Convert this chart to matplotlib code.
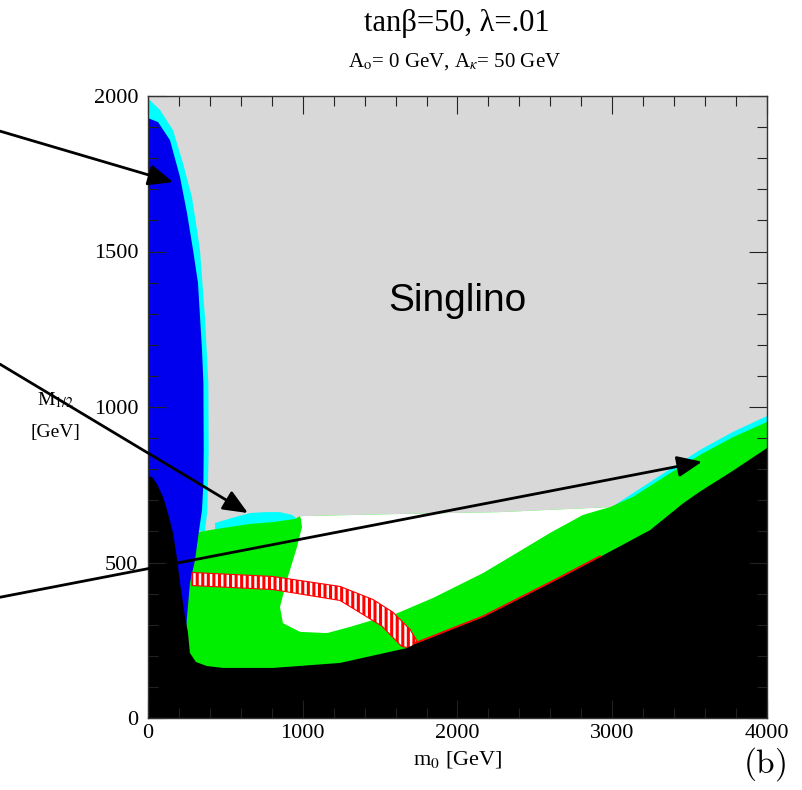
import matplotlib.pyplot as plt
from matplotlib.ticker import MultipleLocator

plt.rcParams['mathtext.fontset'] = 'stix'
plt.rcParams['hatch.linewidth'] = 2.2
serif = 'Liberation Serif'

# === Region boundaries (m0 [GeV], M1/2 [GeV]) ===
# excluded region (black), top edge left to right
black_x = [0, 26, 58, 97, 129, 162, 187, 207, 239, 258, 271, 310, 381, 485, 808,
           1241, 1674, 1738, 2165, 2598, 2921, 3244, 3457, 3567, 3780, 4000]
black_y = [778, 775, 752, 711, 659, 595, 514, 434, 325, 276, 209, 180, 167, 161, 161,
           177, 225, 241, 325, 434, 518, 604, 690, 728, 795, 868]

# bino-like region (blue), right edge top to bottom
blue_x = [0, 65, 142, 207, 252, 291, 323, 349, 358, 360, 358, 349, 330, 304, 271, 252, 246]
blue_y = [1929, 1916, 1858, 1739, 1624, 1505, 1399, 1183, 1077, 862, 756, 669, 604, 508, 434, 325, 283]

# cyan edge around the blue region
cyan_l_x = [0, 78, 162, 226, 284, 317, 336, 368, 390, 392, 384, 368]
cyan_l_y = [1993, 1955, 1890, 1784, 1675, 1569, 1505, 1289, 1077, 862, 669, 601]

# cyan bump above green block
cyan_b_x = [433, 562, 659, 756, 853, 931, 969]
cyan_b_y = [627, 646, 659, 662, 662, 653, 637]

# cyan strip along green on the right
cyan_r_x = [3018, 3134, 3354, 3567, 3780, 4000]
cyan_r_y = [685, 723, 794, 862, 920, 971]

# green region, top edge left to right
green_x = [239, 323, 485, 659, 808, 950, 982, 1628, 2275, 2985, 3134, 3354, 3567, 3780, 4000]
green_y = [598, 598, 611, 624, 630, 640, 649, 656, 662, 678, 711, 781, 846, 903, 952]

# white (unshaded) region
white_x = [982, 1628, 2275, 2985, 2921, 2811, 2598, 2384, 2165, 1842, 1583, 1454, 1306,
           1157, 982, 872, 853, 898, 963, 995, 988]
white_y = [649, 656, 662, 678, 669, 653, 595, 531, 466, 386, 331, 315, 293,
           273, 277, 305, 357, 444, 550, 614, 640]

# red hatched band
hatch_top_x = [284, 808, 1241, 1454, 1583, 1693, 1738]
hatch_top_y = [468, 455, 423, 381, 340, 285, 248]
hatch_bot_x = [1700, 1640, 1510, 1241, 808, 284]
hatch_bot_y = [225, 230, 296, 378, 413, 426]

# thin red line along the black edge
red_x = [1738, 2165, 2598, 2921]
red_y = [243, 327, 436, 520]

# arrow tips (data) and tails (figure fraction)
arrow_tips = [(162, 1723), (646, 659), (3580, 824)]
arrow_tails = [(0.0, 0.834), (0.0, 0.539), (0.0, 0.244)]

# === Plot ===
fig = plt.figure(figsize=(8.02, 7.90), dpi=100)
ax = fig.add_axes([148 / 802, 1 - 718 / 790, 619 / 802, 622 / 790])
ax.set_facecolor('#d8d8d8')

ax.fill(cyan_l_x + [0], cyan_l_y + [601], color='#00ffff', lw=0)
ax.fill(cyan_b_x + [969, 433], cyan_b_y + [590, 590], color='#00ffff', lw=0)
ax.fill(cyan_r_x + [4000, 3018], cyan_r_y + [880, 640], color='#00ffff', lw=0)
ax.fill(green_x + [4000, 239], green_y + [0, 0], color='#00ee00', lw=0)
ax.fill(white_x, white_y, color='white', lw=0)
ax.fill(blue_x + [200, 0], blue_y + [200, 200], color='#0000ee', lw=0)
ax.fill(hatch_top_x + hatch_bot_x, hatch_top_y + hatch_bot_y,
        facecolor='white', edgecolor='red', hatch='|||', lw=0.8)
ax.fill(black_x + [4000, 0], black_y + [0, 0], color='black', lw=0)
ax.plot(red_x, red_y, color='red', lw=1.3)

for tip, tail in zip(arrow_tips, arrow_tails):
    ax.annotate('', xy=tip, xycoords='data', xytext=tail, textcoords='figure fraction',
                annotation_clip=False,
                arrowprops=dict(arrowstyle='-|>,head_length=0.75,head_width=0.32',
                                mutation_scale=20, lw=2, color='black',
                                shrinkA=0, shrinkB=0))

ax.text(2000, 1340, 'Singlino', family='Liberation Sans', fontsize=28,
        ha='center', va='center')

ax.set_xlim(0, 4000)
ax.set_ylim(0, 2000)
ax.xaxis.set_major_locator(MultipleLocator(1000))
ax.xaxis.set_minor_locator(MultipleLocator(200))
ax.yaxis.set_major_locator(MultipleLocator(500))
ax.yaxis.set_minor_locator(MultipleLocator(100))
ax.tick_params(which='both', direction='in', top=True, right=True, width=0.8,
               color='#222222')
ax.tick_params(which='major', length=13, labelsize=16)
ax.tick_params(axis='x', which='major', pad=4)
ax.tick_params(axis='y', which='major', pad=7)
ax.tick_params(which='minor', length=7)
for lab in ax.get_xticklabels() + ax.get_yticklabels():
    lab.set_family(serif)
for sp in ax.spines.values():
    sp.set_color('#333333')
    sp.set_linewidth(1.0)

fig.text(457 / 802, 1 - 23 / 790, 'tanβ=50, λ=.01', family=serif, fontsize=22,
         ha='center', va='center')
fig.text(455 / 802, 1 - 62 / 790, r'A$_\mathrm{o}$= 0 GeV, A$_\kappa$= 50 GeV', family=serif,
         fontsize=15, ha='center', va='center')
fig.text(55 / 802, 1 - 400 / 790, r'M$_{1/2}$', family=serif, fontsize=14,
         ha='center', va='center')
fig.text(55 / 802, 1 - 433 / 790, '[GeV]', family=serif, fontsize=14,
         ha='center', va='center')
fig.text(458 / 802, 1 - 759 / 790, r'm$_0$ [GeV]', family=serif, fontsize=16,
         ha='center', va='center')
fig.text(765 / 802, 1 - 764 / 790, r'$(\mathrm{b})$', fontsize=24, math_fontfamily='cm',
         ha='center', va='center')

fig.savefig('out.png', dpi=100)
